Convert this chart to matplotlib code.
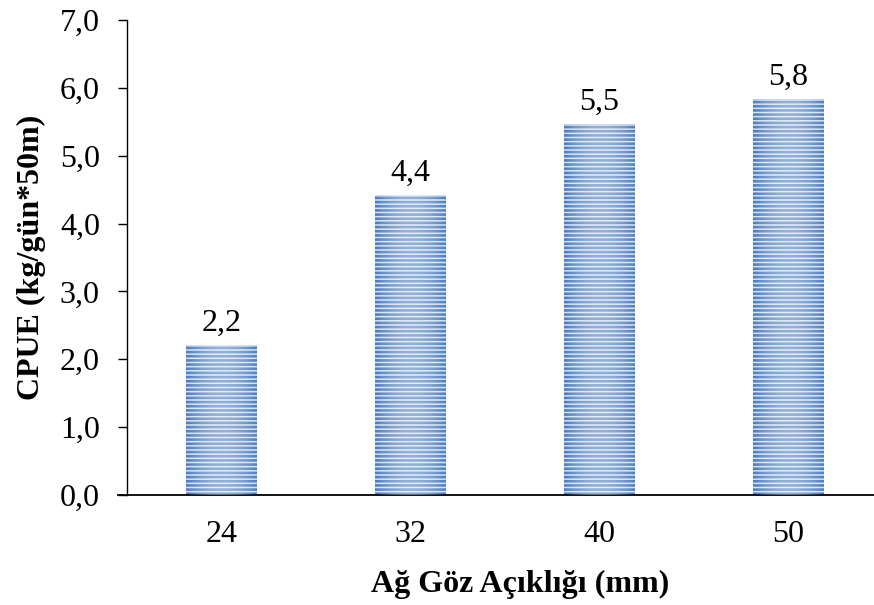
import matplotlib.pyplot as plt
import numpy as np

categories = ['24', '32', '40', '50']
cpue = [2.21, 4.42, 5.47, 5.84]
yticks = [0, 1, 2, 3, 4, 5, 6, 7]

plt.rcParams['font.family'] = ['Liberation Serif', 'DejaVu Serif']
plt.rcParams['hatch.linewidth'] = 1.9

stripe = '#4a7cbf'

fig = plt.figure(figsize=(8.74, 6.05), dpi=100)
ax = fig.add_axes([0.1453, 0.1818, 0.8547, 0.785])

x = np.arange(len(categories))
bar_w = 0.376
bars = ax.bar(x, cpue, width=bar_w, color='#d6e1f1', edgecolor=stripe,
              linewidth=0, hatch='----', zorder=2)

# lighter band in the middle of each bar
grad = np.abs(np.linspace(-1, 1, 64))
overlay = np.zeros((1, 64, 4))
overlay[..., :3] = 1.0
overlay[..., 3] = 0.4 * (1 - grad ** 2)
for xi, v in zip(x, cpue):
    ax.imshow(overlay, extent=(xi - bar_w / 2, xi + bar_w / 2, 0, v),
              aspect='auto', zorder=3, interpolation='bilinear')

for xi, v in zip(x, cpue):
    ax.annotate(f'{v:.1f}'.replace('.', ','), (xi, v), xytext=(0, 5),
                textcoords='offset points', ha='center', va='bottom', fontsize=23)

ax.set_xlim(-0.5, 3.455)
ax.set_ylim(0, 7)
ax.set_xticks(x)
ax.set_xticklabels(categories, fontsize=23)
ax.set_yticks(yticks)
ax.set_yticklabels([f'{t:.1f}'.replace('.', ',') for t in yticks], fontsize=23)
ax.tick_params(axis='x', length=0, pad=18)
ax.tick_params(axis='y', length=6.5, width=1, direction='out', pad=13)

for s in ['top', 'right']:
    ax.spines[s].set_visible(False)
ax.spines['left'].set_linewidth(1)
ax.spines['bottom'].set_linewidth(1.3)
ax.spines['bottom'].set_bounds(-0.548, 3.455)

ax.set_xlabel('Ağ Göz Açıklığı (mm)', fontsize=23, fontweight='bold')
ax.set_ylabel('CPUE (kg/gün*50m)', fontsize=23, fontweight='bold')
ax.xaxis.label.set_va('baseline')
ax.xaxis.set_label_coords(0.526, -0.204)
ax.yaxis.label.set_va('center')
ax.yaxis.set_label_coords(-0.128, 0.5)

fig.savefig('out.png', dpi=100)
